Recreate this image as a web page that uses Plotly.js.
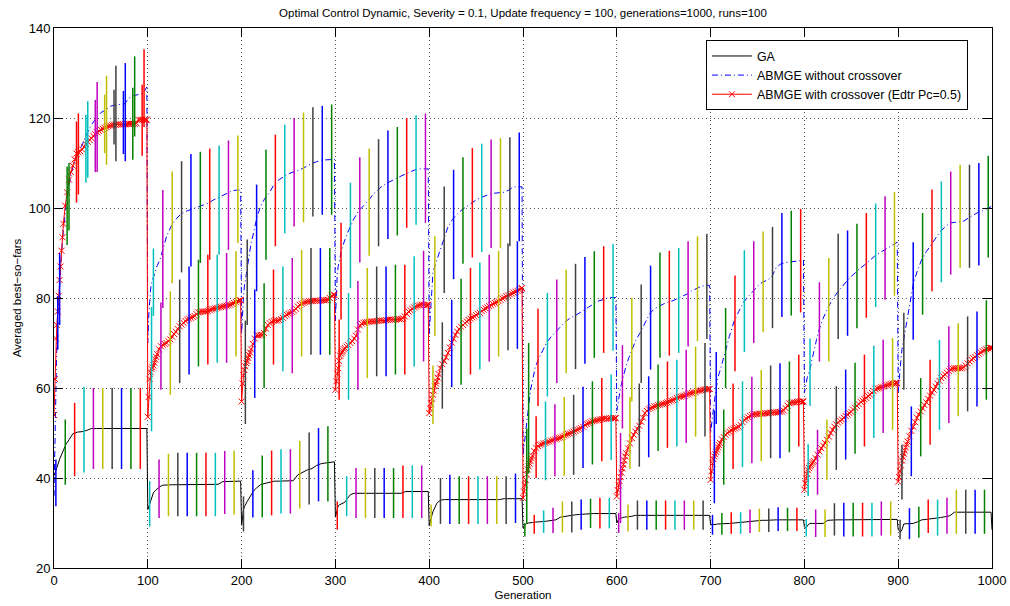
<!DOCTYPE html>
<html>
<head>
<meta charset="utf-8">
<script src="https://cdn.plot.ly/plotly-3.0.1.min.js"></script>
<style>html,body{margin:0;padding:0;background:#fff;}</style>
</head>
<body>
<div id="chart" style="width:1010px;height:606px;"></div>
<script>
// Generations sampled inside every 100-generation environment period
const periodOffsets = [0,1,2,3,4,6,8,10,13,16,20,25,30,35,40,45,50,55,60,65,70,75,80,85,90,95,99];
// The crossover variant is sampled more finely (every generation right after a change, then every 2)
const xoverOffsets = [0,1,2,3,4,5,6,7,8,9,10,
  12,14,16,18,20,22,24,26,28,30,32,34,36,38,40,42,44,46,48,50,
  52,54,56,58,60,62,64,66,68,70,72,74,76,78,80,82,84,86,88,90,
  92,94,96,98,99];
const lastGeneration = 1000;

// Averaged best-so-far, GA (one row per period)
const gaMean = [
  40.5,41,41.5,42.2,42.9,44.2,45.3,46.3,47.6,48.5,49.8,50.2,50.3,50.6,51,51,51,51,51,51,51,51,51,51,51,51,51,
  33.0,33.6,34.6,35.3,35.9,36.7,37.2,37.6,38.1,38.4,38.5,38.5,38.5,38.5,38.5,38.5,38.5,38.5,38.5,38.5,38.5,38.6,39.2,39.2,39.3,39.3,39.3,
  29.5,31.5,33.0,33.6,34.1,34.8,35.5,36.3,37.2,37.8,38.5,38.8,39.1,39.3,39.3,39.3,39.3,39.4,40.7,41.3,41.8,42.1,42.8,43.2,43.4,43.6,43.6,
  31.3,32.3,33.2,33.8,34.0,34.2,34.5,34.6,35.5,36.3,36.6,36.6,36.6,36.6,36.6,36.6,36.6,36.6,36.6,36.6,36.6,37.0,37.0,37.0,37.0,37.0,37.0,
  29.4,30.5,31.2,31.8,32.5,33.6,34.3,34.8,35.1,35.2,35.2,35.2,35.2,35.2,35.2,35.2,35.2,35.2,35.2,35.2,35.2,35.2,35.4,35.4,35.4,35.4,35.4,
  28.9,29.3,29.5,29.7,29.9,30.0,30.0,30.1,30.2,30.2,30.3,30.4,30.5,30.7,31.3,31.5,31.6,31.8,31.9,32.0,32.0,32.1,32.1,32.1,32.1,32.1,32.1,
  30.0,30.7,30.9,31.0,31.1,31.2,31.3,31.3,31.4,31.5,31.7,31.7,31.7,31.7,31.7,31.7,31.7,31.7,31.7,31.7,31.7,31.7,31.7,31.7,31.7,31.7,31.7,
  29.6,29.6,29.6,29.7,29.7,29.7,29.8,29.8,29.8,29.8,29.9,30.0,30.1,30.2,30.3,30.5,30.5,30.6,30.6,30.7,30.7,30.7,30.7,30.7,30.7,30.7,30.7,
  29.2,28.9,29.0,29.3,29.6,29.9,29.9,29.9,29.9,29.9,29.9,30.6,30.7,30.7,30.7,30.7,30.7,30.7,30.7,30.8,30.8,30.8,30.8,30.8,30.8,30.8,30.8,
  28.5,28.2,28.1,28.1,28.5,29.8,29.8,29.9,29.9,29.9,30.2,30.7,30.8,30.9,31.1,31.2,31.4,31.6,32.4,32.4,32.4,32.4,32.4,32.4,32.4,32.4,32.4,
  28.5
];

// ABMGE without crossover
const noXoverMean = [
  36,50,62,70,75,83,90,95,101,105,109,112,114,116.5,118.5,120,121.2,121.8,122.6,122.9,123,123.1,124.4,125,125.2,125.5,126.9,
  70,76,80,82,83.3,84.7,86,87.2,88.5,91,93.7,96,97.5,98.6,99.2,99.6,100,100.4,100.8,101.1,101.8,102.3,102.9,103.4,103.8,104,104,
  72,77,80.5,82.6,84,87,89.5,92,94.7,97.6,100.3,102.2,103.5,105.4,106.3,107,107.6,108,108.3,108.8,109.4,109.9,110.3,110.6,110.7,110.8,110.8,
  75,81,85.6,87,88.2,90.2,91.7,93,94.5,95.9,97.7,99.4,100.4,101.6,103,104,104.9,105.5,106.1,106.6,107.1,107.6,108.1,108.5,108.7,108.7,108.7,
  72,76,80,83,85.6,87.1,88.4,89.6,91.5,93.6,95.8,97.5,98.7,99.6,100.4,101.2,101.8,102.3,102.7,103.1,103.3,103.4,103.5,104.0,104.7,104.7,104.7,
  45,47,48.5,50.5,52.5,55.5,59.5,61.5,64.5,66.2,67.8,70,71.4,72.4,73.6,74.7,75.5,76.0,76.6,77.3,78.0,78.7,79.3,79.6,80.0,80.1,80.1,
  55,56.5,58,59,60,61.8,63.5,65,66.8,68.6,70.5,72.3,74.4,76.5,77.6,78.2,78.7,79.1,79.4,79.9,80.4,80.9,81.6,82.1,82.6,82.8,82.8,
  50,52,54,55.5,57,60,62.5,63.8,65.8,68.3,71.5,74.8,77,79,80.3,81.5,82.6,83.5,83.9,84.6,86.8,87.6,87.9,88.0,88.2,88.3,88.4,
  59,60.5,61.5,62.3,63,64.2,66.2,68.2,70.8,73.2,75.5,77.8,79.7,81.2,82.5,83.7,84.8,85.8,86.7,87.5,88.5,89.3,90.0,90.6,91.2,91.9,92.4,
  59,62,64.5,66.5,68.5,71,73.3,75.8,80,83,85.8,88.5,90.3,91.8,93.3,94.8,95.8,96.7,96.8,96.9,97.1,97.8,98.5,99.0,99.4,99.9,100.2,
  100.4
];

// ABMGE with crossover (Edtr Pc=0.5), on the finer xoverOffsets grid
const xoverMean = [
  // 0-99
  54,62,71,74,77,80.5,84,87,90.5,93.5,96.5,
  100.5,103.5,106.3,108,109.4,110.8,112.1,112.4,112.6,113,
  113.6,114.2,114.7,115.1,115.5,116,116.4,116.8,117.1,117.4,
  117.6,117.8,118,118.2,118.3,118.4,118.5,118.5,118.6,118.6,
  118.6,118.6,118.6,118.7,118.7,118.7,118.7,118.7,118.8,119.6,
  119.6,119.6,119.6,119.6,119.6,
  // 100-199
  53.6,58,62,63.5,64.2,64.6,65,65.6,66.3,66.9,67.5,
  68.6,69.3,69.6,69.8,70,70.4,70.8,71.4,72,72.5,
  73.1,73.7,74.1,74.5,74.9,75.2,75.4,75.6,75.8,76,
  76.4,76.8,76.9,77,77,77,77.1,77.3,77.5,77.6,
  77.7,77.8,77.9,78,78.1,78.2,78.3,78.4,78.5,78.7,
  78.9,79.1,79.3,79.5,79.5,
  // 200-299
  57,61,62.8,64,64.8,65.5,66,66.7,67.3,67.9,68.6,
  69.8,71,71.7,71.7,71.8,71.8,72.2,73.2,74,74.4,
  74.7,74.9,75,75,75.1,75.3,75.6,76,76.3,76.5,
  76.7,76.9,77.2,77.6,78.1,78.5,78.7,78.9,79.1,79.2,
  79.3,79.3,79.3,79.4,79.4,79.4,79.4,79.5,79.5,79.5,
  79.6,80,80.5,80.7,80.7,
  // 300-399
  59.6,61.5,63.2,64.4,66,67.2,67.6,67.9,68.2,68.6,68.9,
  69.2,69.5,70,70.4,71,71.6,73,73.9,74.3,74.5,
  74.6,74.7,74.7,74.8,74.8,74.8,74.9,74.9,75,75,
  75,75.1,75.1,75.2,75.2,75.2,75.2,75.3,75.3,75.3,
  75.5,75.9,76.5,77,77.3,77.6,77.9,78.1,78.3,78.4,
  78.5,78.5,78.5,78.5,78.5,
  // 400-499
  54.4,55.4,56.6,57.6,58.5,59.4,60.4,61,61.5,62.3,63.1,
  64.4,65.3,66,66.8,67.8,69,70.1,70.9,71.8,72.5,
  73.1,73.6,74,74.4,74.8,75.1,75.4,75.7,75.9,76.2,
  76.5,76.7,77.1,77.4,77.7,77.9,78.2,78.4,78.7,78.9,
  79.1,79.3,79.6,79.9,80.1,80.4,80.6,80.8,81,81.2,
  81.4,81.6,81.8,82.1,82.2,
  // 500-599
  35.6,37,38.4,39.6,40.8,41.9,42.6,43.2,43.8,44.4,44.9,
  46,46.7,47.1,47.4,47.5,47.7,47.8,48,48.1,48.3,
  48.4,48.6,48.7,48.9,49,49.2,49.4,49.6,49.8,49.9,
  50.1,50.3,50.5,50.7,50.9,51.1,51.4,51.8,52,52.2,
  52.4,52.6,52.7,52.8,52.9,53,53.1,53.1,53.2,53.2,
  53.3,53.3,53.3,53.3,53.3,
  // 600-699
  35.9,37.3,38.4,39.3,40.2,41.2,42.1,43,43.9,44.8,45.5,
  46.6,47.7,48.9,49.6,50.3,50.9,51.6,52.5,53.4,54.4,
  54.9,55.3,55.5,55.7,55.9,56,56.2,56.3,56.4,56.5,
  56.7,56.8,57,57.2,57.3,57.5,57.8,58,58.1,58.2,
  58.3,58.5,58.6,58.8,58.9,59,59.1,59.3,59.4,59.5,
  59.6,59.7,59.7,59.8,59.8,
  // 700-799
  39.6,41.5,43.2,44.2,44.8,45.3,45.8,46.3,46.8,47.3,47.8,
  48.6,49.1,49.6,50,50.3,50.6,50.8,51,51.2,51.4,
  51.8,52.4,52.9,53.2,53.5,53.8,54,54.1,54.2,54.2,
  54.3,54.3,54.3,54.4,54.4,54.4,54.5,54.5,54.6,54.6,
  54.7,54.7,54.8,55,55.5,56.1,56.6,56.7,56.8,56.8,
  56.9,57,57,57,57,
  // 800-899
  37.4,38.8,39.9,40.9,41.7,42.2,42.6,42.9,43.2,43.5,43.8,
  44.4,45.2,45.9,46.6,47.2,47.8,48.5,49.2,50,50.7,
  51.4,51.9,52.3,52.7,53,53.4,53.8,54.1,54.4,54.7,
  55.2,55.6,56,56.4,56.9,57.2,57.5,57.8,58.2,58.5,
  58.9,59.3,59.7,59.9,60,60.2,60.3,60.5,60.6,60.8,
  60.9,61,61,61.1,61.1,
  // 900-999
  39.2,40.2,41.5,42.8,43.9,44.7,45.4,46.1,46.8,47.5,48.1,
  49.3,50.5,51.4,52.4,53.4,54.1,54.8,55.5,56.2,56.8,
  57.6,58.3,59,59.6,60.3,61,61.6,62.2,62.6,63,
  63.4,63.8,64.1,64.3,64.4,64.4,64.4,64.4,64.4,64.6,
  65,65.5,65.9,66.3,66.6,66.9,67.3,67.6,67.9,68.2,
  68.4,68.6,68.8,68.9,68.9,
  // 1000
  68.9
];

// Spread over the runs, drawn every 10 generations (low / high ends)
const gaBarLow = [
  33.7,38.5,40.4,41.2,42,42,42,42,42,42,
  29.2,31.1,31.5,31.5,31.5,31.5,31.5,31.5,32.0,31.9,
  28.1,31.2,31.3,31.7,32.1,32.1,33.2,34.1,34.8,34.8,
  28.5,31.5,31.1,31.1,31.1,31.1,31.1,31.1,31.1,31.1,
  29.2,29.8,29.8,29.8,29.8,29.8,29.8,29.8,29.8,30.0,
  27.0,27.6,27.8,27.8,27.9,27.9,28.5,28.9,28.8,28.8,
  27.8,28.1,28.5,28.5,28.5,28.5,28.5,28.5,28.5,28.5,
  27.4,27.4,27.6,27.6,27.8,28.0,28.0,28.2,28.2,28.2,
  27.0,26.9,26.9,27.2,27.0,27.0,27.0,27.0,27.2,27.2,
  26.4,26.4,26.7,27.8,27.2,27.6,27.6,27.6,27.6,27.6
];
const gaBarHigh = [
  44.1,53.0,56.7,60.3,60,60,60,60,60,60,
  39.3,44.1,45.4,45.6,45.6,45.6,45.6,45.6,46.0,46.1,
  35.9,41.7,45.0,46.1,46.4,46.4,48.3,50.1,51.1,51.5,
  34.8,40.4,42.2,42.2,42.2,42.2,42.2,42.8,42.8,42.8,
  34.1,40.0,40.7,40.4,40.4,40.4,40.4,40.4,40.4,41.0,
  30.0,31.8,32.8,33.4,34.8,34.8,35.2,35.4,35.6,35.6,
  32.2,34.1,35.0,35.0,35.0,35.0,35.0,35.0,35.0,35.0,
  31.8,32.2,32.4,32.4,33.0,33.2,33.2,33.5,33.4,33.4,
  30.9,33.0,33.0,34.4,34.5,34.5,34.5,34.5,34.8,34.8,
  30.7,33.3,33.6,35.2,35.2,35.6,37.4,37.4,37.4,37.4
];
const xoverBarLow = [
  68.5,91.8,101.2,105.6,108,112.2,114.1,112,110.7,111.6,
  50.4,59.6,58.5,61.1,63.0,64.8,65.2,65.6,65.6,67.0,
  52,57.8,60.0,65.2,63.7,63.3,67.0,67.4,67.4,67.4,
  57.4,57.4,59.6,62.2,62.6,62.6,63.0,63.0,64.8,65.9,
  52,55.4,60.2,60.7,63.0,64.1,65.9,67.0,68.4,68.7,
  30,40.0,39.5,40.4,40.5,40.7,42.2,43.0,43.7,44,
  30,42,42.5,44.6,46.0,46.7,47.0,47.8,49.2,49.2,
  34.4,38.5,42,42.4,43.3,43.7,44.4,44.4,45.7,47.0,
  36,36.3,39.6,41.8,44.1,45.4,47.0,48.9,50.0,50.7,
  35.2,40.4,44.8,47.4,50.7,52.2,53.7,54.8,55.9,57.4
];
const xoverBarHigh = [
  80.4,109.2,119.2,120.7,124,125.2,126.3,126,126.7,127.4,
  78,79,81.5,84.1,87.0,88.5,89.6,89.6,90,90.4,
  75,81.9,83.3,86.3,87.0,88.9,90.7,91.1,91.1,91.1,
  75.2,81.1,83.8,86.7,87.0,87.0,87.4,87.4,89.3,90.5,
  65,74.6,79.6,84.3,86.7,87.9,89.6,90.5,92.1,92.6,
  51,53.7,57,56.4,58,58.5,60.3,61.5,62.2,63,
  50,58,61,62.6,65.2,65.9,66.3,68.5,69.2,70.0,
  55,55.2,61,61.5,62.5,64,65,65.5,65.9,67.4,
  47.5,50.7,53.0,60.4,64.1,65.6,67.4,69.4,70.7,71.1,
  47.4,55.9,62.2,66.3,70.7,73.7,74.4,75.9,77.0,79.5
];
const noXoverBarLow = [
  74,95,103,106.7,108,109.6,110.4,110.4,115.9,118,
  76,77.8,83.3,85.7,87.0,87.8,88.5,89.6,90.7,92.2,
  74,81.5,88.5,91.5,94.4,95.9,96.8,98.1,98.5,98.5,
  75.2,82.2,87.9,89.4,91.5,93.1,93.9,95.6,96.3,96.7,
  71.5,81.1,84.2,87.6,89.0,90.2,91.1,91.1,91.5,92.6,
  41,56,58.1,61.1,63.3,64.2,65.4,66.7,67.8,68.3,
  51,57,61.1,64.1,66.7,67.2,67.8,69.2,70.4,70.9,
  52,60.0,63.7,68.0,70.0,72.4,73.3,75.8,76.1,76.8,
  56,65.9,65.9,70.9,71.6,73.3,75.6,78.0,79.6,80.5,
  59.6,70.7,76.3,81.5,83.5,85.2,86.7,86.7,87.2,89.0
];
const noXoverBarHigh = [
  90,110,121,123.7,128,129.4,131.6,132.2,133.7,135.3,
  91,104,108.1,110.4,112.0,112.5,113.2,113.9,115,116.1,
  93,105.2,113,116.3,118.5,120,121.2,122.4,122.7,123,
  96.7,105.6,111.3,113.2,115.3,117.2,118.0,120,120.6,121,
  93.7,104.8,108.5,111.3,113.3,114.3,115.2,115.5,115.7,116.8,
  70,77.6,81.1,84.1,86.3,87.6,89.1,90.4,91.5,92.0,
  69.5,80,83,87.2,90.1,90.5,91.1,92.6,93.7,94.3,
  68,77.8,85.0,90.6,92.6,94.8,95.8,98.9,99.4,99.8,
  71,83.5,88.9,94.3,95.0,96.5,98.9,101.0,102.6,103.6,
  76.7,92.4,98.9,104.1,105.9,108.1,109.6,109.6,110.0,111.6
];

// Bars sit every 10 generations, each series shifted a little so they don't overlap
const barStep = 10;
const gaBarOffset = 2, xoverBarOffset = 4, noXoverBarOffset = 6;

// Colour cycle used for the spread bars
const barColors = ['#0000ff', '#008000', '#ff0000', '#00bfbf', '#bf00bf', '#bfbf00', '#404040'];

function buildGenerations(offsets) {
  const g = [];
  for (let p = 0; p < 10; p++) {
    for (const o of offsets) g.push(p * 100 + o);
  }
  g.push(lastGeneration);
  return g;
}
const generation = buildGenerations(periodOffsets);
const xoverGeneration = buildGenerations(xoverOffsets);

function barTraces(offset, low, high) {
  const traces = [];
  for (let c = 0; c < barColors.length; c++) {
    const x = [], y = [];
    for (let i = c; i < low.length; i += barColors.length) {
      const g = offset + barStep * i;
      x.push(g, g, null);
      y.push(low[i], high[i], null);
    }
    traces.push({
      type: 'scatter', mode: 'lines', x: x, y: y,
      line: {color: barColors[c], width: 1.5},
      showlegend: false, hoverinfo: 'skip'
    });
  }
  return traces;
}

const traces = [
  {
    type: 'scatter', mode: 'lines', name: 'GA',
    x: generation, y: gaMean,
    line: {color: '#000000', width: 1}
  },
  {
    type: 'scatter', mode: 'lines', name: 'ABMGE without crossover',
    x: generation, y: noXoverMean,
    line: {color: '#0000ff', width: 1, dash: '6px,3px,1px,3px'}
  },
  {
    type: 'scatter', mode: 'lines+markers', name: 'ABMGE with crossover (Edtr Pc=0.5)',
    x: xoverGeneration, y: xoverMean,
    line: {color: '#ff0000', width: 1},
    marker: {symbol: 'x-thin', size: 6, color: '#ff0000', line: {color: '#ff0000', width: 1}}
  }
].concat(
  barTraces(gaBarOffset, gaBarLow, gaBarHigh),
  barTraces(xoverBarOffset, xoverBarLow, xoverBarHigh),
  barTraces(noXoverBarOffset, noXoverBarLow, noXoverBarHigh)
);

const axisCommon = {
  ticks: 'inside', ticklen: 9, tickwidth: 1, tickcolor: '#000',
  mirror: 'allticks', showline: true, linecolor: '#000', linewidth: 1,
  showgrid: true, gridcolor: '#555', gridwidth: 1, griddash: '1px,3px',
  zeroline: false, tickfont: {size: 13, color: '#000'}
};

const layout = {
  width: 1010, height: 606,
  margin: {l: 54, r: 18, t: 28, b: 38},
  paper_bgcolor: '#ffffff', plot_bgcolor: '#ffffff',
  font: {family: 'Liberation Sans, Arial, sans-serif', size: 13, color: '#000'},
  title: {
    text: 'Optimal Control Dynamic, Severity = 0.1, Update frequency = 100, generations=1000, runs=100',
    font: {size: 11.5, color: '#000'},
    x: 0.5, xref: 'paper', xanchor: 'center',
    y: 0.979, yref: 'container', yanchor: 'middle'
  },
  xaxis: Object.assign({}, axisCommon, {
    range: [0, 1000], tick0: 0, dtick: 100,
    title: {text: 'Generation', font: {size: 11.5}, standoff: 4}
  }),
  yaxis: Object.assign({}, axisCommon, {
    range: [20, 140], tick0: 20, dtick: 20,
    title: {text: 'Averaged best\u2212so\u2212fars', font: {size: 11.5}, standoff: 4}
  }),
  legend: {
    x: 0.695, y: 0.977, xanchor: 'left', yanchor: 'top',
    bgcolor: '#ffffff', bordercolor: '#000', borderwidth: 1,
    itemwidth: 40,
    font: {size: 12.4, color: '#000'}
  },
  showlegend: true
};

Plotly.newPlot('chart', traces, layout, {displayModeBar: false, staticPlot: true});
</script>
</body>
</html>
